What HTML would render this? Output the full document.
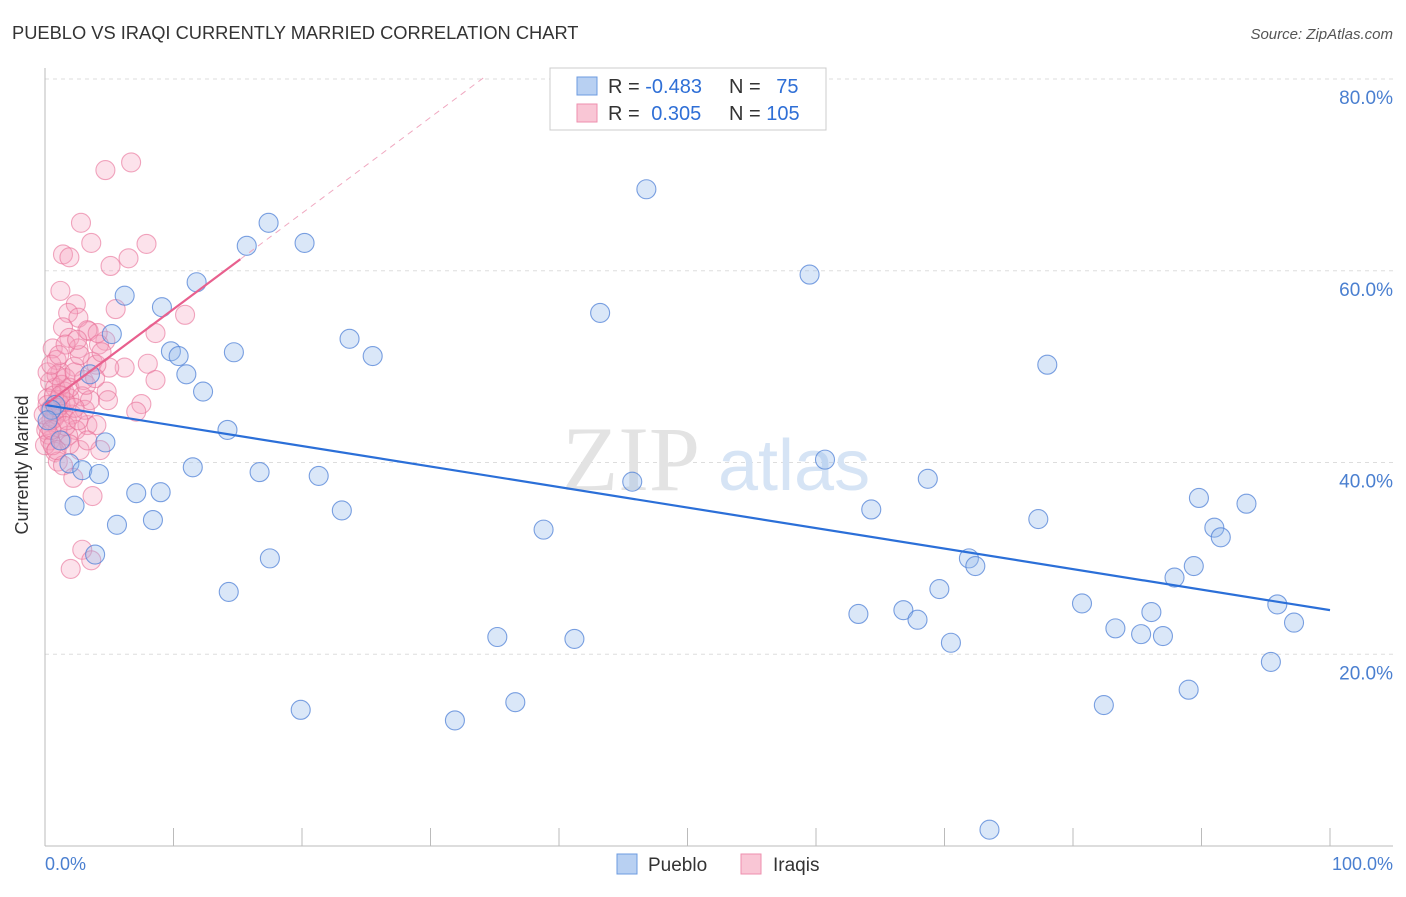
<!DOCTYPE html>
<html><head><meta charset="utf-8"><style>
body{margin:0;background:#fff;font-family:"Liberation Sans",sans-serif}
</style></head><body>
<svg width="1406" height="892" xmlns="http://www.w3.org/2000/svg">
<text x="12" y="39" font-size="18.3" fill="#333">PUEBLO VS IRAQI CURRENTLY MARRIED CORRELATION CHART</text>
<text x="1393" y="39" font-size="15" fill="#555" text-anchor="end" font-style="italic">Source: ZipAtlas.com</text>
<g id="grid"></g>
<text x="700" y="490" font-size="92" fill="#e3e3e3" text-anchor="end" font-family="Liberation Serif">ZIP</text>
<text x="718" y="490" font-size="72" fill="#d6e4f5">atlas</text>
<line x1="45" y1="68" x2="45" y2="846" stroke="#bbb"/>
<line x1="45" y1="846" x2="1393" y2="846" stroke="#bbb"/>
<g id="ticks"></g>
<text x="18" y="455" font-size="18" fill="#333" transform="rotate(-90 28 455)" text-anchor="middle">Currently Married</text>
<text x="45" y="870" font-size="18" fill="#4a7fd0">0.0%</text>
<text x="1393" y="870" font-size="18" fill="#4a7fd0" text-anchor="end">100.0%</text>
<g id="pts"></g>
<g id="lines"></g>
<g>
<rect x="550" y="68" width="276" height="62" fill="#fff" stroke="#ccc"/>
<rect x="577" y="77" width="20" height="18" fill="#b8d0f2" stroke="#6c9be0"/>
<rect x="577" y="104" width="20" height="18" fill="#f9c6d5" stroke="#ee8fae"/>
<text x="608" y="93" font-size="20" fill="#333">R = <tspan fill="#2f6fd6">-0.483</tspan></text>
<text x="729" y="93" font-size="20" fill="#333">N = <tspan fill="#2f6fd6" dx="10">75</tspan></text>
<text x="608" y="120" font-size="20" fill="#333">R = <tspan fill="#2f6fd6" dx="6">0.305</tspan></text>
<text x="729" y="120" font-size="20" fill="#333">N = <tspan fill="#2f6fd6">105</tspan></text>
</g>
<g>
<rect x="617" y="854" width="20" height="20" fill="#b8d0f2" stroke="#6c9be0"/>
<text x="648" y="871" font-size="19" fill="#333">Pueblo</text>
<rect x="741" y="854" width="20" height="20" fill="#f9c6d5" stroke="#ee8fae"/>
<text x="773" y="871" font-size="19" fill="#333">Iraqis</text>
</g>
</svg>
<script>
const yTicks=[20,40,60,80];
const xTickVals=[0,10,20,30,40,50,60,70,80,90,100];
const bluePx=[[647,189],[269,223],[247,246],[305,243],[810,275],[197,282],[125,296],[162,307],[600,313],[112,334],[349,339],[171,351],[234,352],[178,356],[373,356],[1047,365],[90,374],[186,374],[203,392],[227,430],[106,442],[70,463],[825,460],[193,467],[82,470],[259,472],[319,476],[99,474],[632,482],[928,479],[136,493],[161,492],[1199,498],[1246,504],[75,506],[342,510],[871,509],[1038,519],[153,520],[117,525],[544,530],[1214,528],[1221,537],[95,555],[270,558],[969,558],[975,566],[1194,566],[1174,578],[939,589],[229,592],[1082,603],[1277,604],[904,610],[859,614],[918,620],[1151,612],[1116,628],[1294,623],[497,637],[575,639],[1141,634],[1163,636],[951,643],[1271,662],[1189,690],[301,710],[515,702],[455,720],[1104,705],[990,830],[55,405],[52,410],[48,420],[60,440]];
const pinkPx=[[131,162],[106,170],[81,223],[91,243],[146,244],[63,254],[69,257],[128,258],[110,266],[60,291],[76,304],[116,309],[185,315],[68,313],[78,318],[63,327],[70,338],[89,331],[87,330],[105,341],[155,333],[78,348],[53,348],[56,360],[93,362],[74,367],[125,368],[148,364],[109,368],[60,372],[66,378],[84,380],[156,380],[50,382],[55,388],[64,392],[107,392],[48,398],[58,400],[70,398],[82,396],[142,404],[136,412],[50,410],[63,412],[72,415],[88,425],[97,425],[47,425],[58,428],[76,430],[62,440],[68,436],[50,440],[55,452],[80,450],[100,450],[58,462],[63,465],[73,478],[93,496],[82,550],[91,560],[71,569],[46,430],[49,435],[52,420],[56,415],[60,405],[66,402],[47,405],[54,395],[62,385],[70,388],[45,445],[53,445],[57,375],[75,372],[80,355],[96,365],[99,345],[102,352],[65,345],[85,410],[90,400],[54,418],[58,408],[67,420],[74,408],[44,415],[48,372],[51,365],[59,355],[77,340],[86,385],[95,378],[65,426],[70,444],[98,333],[108,400],[52,430],[61,395],[56,450],[79,420],[88,440]];
const blueX=bluePx.map(p=>+((p[0]-45)/12.85).toFixed(1));
const blueY=bluePx.map(p=>+((846-p[1])/9.5875).toFixed(1));
const pinkX=pinkPx.map(p=>+((p[0]-45)/12.85).toFixed(1));
const pinkY=pinkPx.map(p=>+((846-p[1])/9.5875).toFixed(1));
const blueTrend=[46.0,24.6];
const pinkTrend=[46.0,1.0];
const NS="http://www.w3.org/2000/svg";
const sx=v=>45+v*12.85, sy=v=>846-v*9.5875;
function mk(tag,attrs,parent){const e=document.createElementNS(NS,tag);for(const k in attrs)e.setAttribute(k,attrs[k]);document.getElementById(parent).appendChild(e);return e;}
yTicks.forEach(t=>{
 const l=mk('line',{x1:45,x2:1393,y1:sy(t),y2:sy(t),stroke:'#ddd','stroke-dasharray':'4 4'},'grid');
 
 
 const tx=mk('text',{x:1393,y:sy(t)+25,'font-size':19,fill:'#4a7fd0','text-anchor':'end'},'grid');
 tx.textContent=t.toFixed(1)+'%';
 
 
});
xTickVals.forEach(t=>{
 const l=mk('line',{x1:sx(t),x2:sx(t),y1:828,y2:846,stroke:'#bbb'},'ticks');
 
 
});
function dots(xs,ys,fill,stroke,name){xs.forEach((x,i)=>{
 const c=mk('circle',{cx:sx(x),cy:sy(ys[i]),r:9.5,fill:fill,stroke:stroke,'stroke-width':1.1},'pts');
 
 
});}
dots(pinkX,pinkY,'rgba(245,160,188,0.3)','rgba(232,110,150,0.6)','iraqis-point');
dots(blueX,blueY,'rgba(150,185,235,0.35)','rgba(80,130,215,0.75)','pueblo-point');
const bl=mk('line',{x1:sx(0),y1:sy(blueTrend[0]),x2:sx(100),y2:sy(blueTrend[1]),stroke:'#2b6fd8','stroke-width':2.2},'lines');


const pl=mk('line',{x1:sx(0),y1:sy(pinkTrend[0]),x2:sx(15.2),y2:sy(pinkTrend[0]+pinkTrend[1]*15.2),stroke:'#e8608e','stroke-width':2.2},'lines');


const pd=mk('line',{x1:sx(15.2),y1:sy(pinkTrend[0]+pinkTrend[1]*15.2),x2:sx(34.2),y2:sy(pinkTrend[0]+pinkTrend[1]*34.2),stroke:'#f0a8c0','stroke-width':1,'stroke-dasharray':'6 5'},'lines');


</script>
</body></html>
